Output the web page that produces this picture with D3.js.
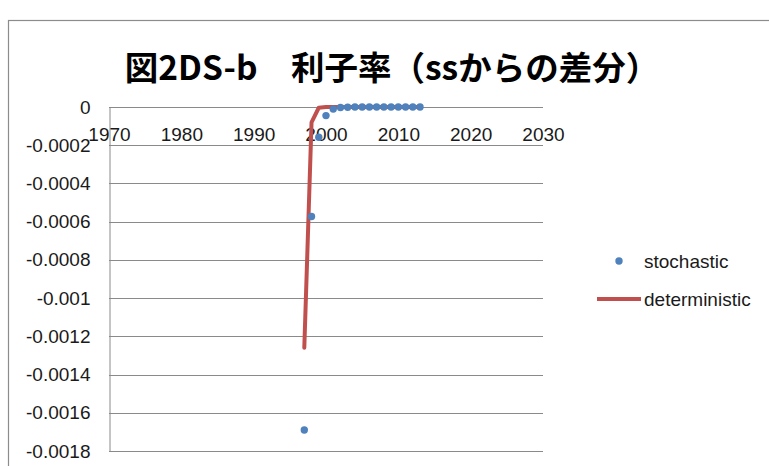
<!DOCTYPE html>
<html>
<head>
<meta charset="utf-8">
<script src="https://cdn.jsdelivr.net/npm/d3@7"></script>
<style>
  html, body { margin: 0; padding: 0; background: #fff; }
  svg { display: block; }
</style>
</head>
<body>
<svg id="chart" width="769" height="466"></svg>
<script>
// Interest rate, deviation from steady state
const titleText = "図2DS-b\u3000利子率（ssからの差分）";
const xTicks = [1970, 1980, 1990, 2000, 2010, 2020, 2030];
const yTicks = [0, -0.0002, -0.0004, -0.0006, -0.0008, -0.001, -0.0012, -0.0014, -0.0016, -0.0018];
const yTickLabels = ["0", "-0.0002", "-0.0004", "-0.0006", "-0.0008", "-0.001", "-0.0012", "-0.0014", "-0.0016", "-0.0018"];

const stochYears = [1997, 1998, 1999, 2000, 2001, 2002, 2003, 2004, 2005, 2006, 2007, 2008, 2009, 2010, 2011, 2012, 2013];
const stochValues = [-0.00169, -0.000573, -0.000158, -0.000045, -0.000011, -0.000003, -0.000001, 0, 0, 0, 0, 0, 0, 0, 0, 0, 0];

const detYears = [1997, 1998, 1999, 2000, 2001, 2002, 2003, 2004, 2005, 2006, 2007, 2008, 2009, 2010, 2011, 2012, 2013];
const detValues = [-0.00126, -0.00008, -0.000004, 0, 0, 0, 0, 0, 0, 0, 0, 0, 0, 0, 0, 0, 0];

const seriesNames = ["stochastic", "deterministic"];
const blue = "#4F81BD", red = "#C0504D";

const svg = d3.select("#chart");
const font = "'Liberation Sans', Arial, sans-serif";

// chart frame
svg.append("rect")
  .attr("x", 8.5).attr("y", 20.5).attr("width", 800).attr("height", 500)
  .attr("fill", "#fff").attr("stroke", "#8c8c8c").attr("stroke-width", 1.2);

const x = d3.scaleLinear().domain([1970, 2030]).range([109, 543]);
const y = d3.scaleLinear().domain([-0.0018, 0]).range([451, 107]);

// horizontal gridlines
svg.append("g")
  .selectAll("line").data(yTicks).join("line")
  .attr("x1", x.range()[0]).attr("x2", x.range()[1])
  .attr("y1", d => Math.round(y(d)) + 0.5).attr("y2", d => Math.round(y(d)) + 0.5)
  .attr("stroke", "#8a8a8a").attr("stroke-width", 1);

// vertical value axis
const yAxis = d3.axisLeft(y).tickValues(yTicks)
  .tickFormat((d, i) => yTickLabels[i]).tickSize(0).tickPadding(19);
const gy = svg.append("g").attr("transform", "translate(109.5,0)").call(yAxis);
gy.select(".domain").attr("stroke", "#8a8a8a");
gy.selectAll("text").attr("font-family", font).attr("font-size", 19).attr("fill", "#1a1a1a");

// horizontal category axis sits on the zero line, labels below it
const xAxis = d3.axisBottom(x).tickValues(xTicks).tickFormat(d3.format("d")).tickSize(0).tickPadding(20);
const gx = svg.append("g").attr("transform", `translate(0,${Math.round(y(0)) + 0.5})`).call(xAxis);
gx.select(".domain").remove();
gx.selectAll("text").attr("font-family", font).attr("font-size", 19).attr("fill", "#1a1a1a");

// deterministic path
const line = d3.line().x(d => x(d[0])).y(d => y(d[1]));
svg.append("path")
  .datum(detYears.map((yr, i) => [yr, detValues[i]]))
  .attr("d", line)
  .attr("fill", "none").attr("stroke", red).attr("stroke-width", 4)
  .attr("stroke-linejoin", "round").attr("stroke-linecap", "round");

// stochastic markers
svg.append("g")
  .selectAll("circle").data(stochYears.map((yr, i) => [yr, stochValues[i]])).join("circle")
  .attr("cx", d => x(d[0])).attr("cy", d => y(d[1])).attr("r", 3.7)
  .attr("fill", blue);

// title
svg.append("text")
  .attr("x", 392).attr("y", 80).attr("text-anchor", "middle")
  .attr("font-family", "'Noto Sans CJK JP', sans-serif").attr("font-weight", "bold")
  .attr("font-size", 33.5).attr("fill", "#000")
  .text(titleText);

// legend
const lg = svg.append("g");
lg.append("circle").attr("cx", 619).attr("cy", 261).attr("r", 3.7).attr("fill", blue);
lg.append("line").attr("x1", 597).attr("x2", 641).attr("y1", 299).attr("y2", 299)
  .attr("stroke", red).attr("stroke-width", 4);
lg.selectAll("text").data(seriesNames).join("text")
  .attr("x", 644).attr("y", (d, i) => 261 + i * 38).attr("dy", "0.35em")
  .attr("font-family", font).attr("font-size", 19).attr("fill", "#1a1a1a")
  .text(d => d);
</script>
</body>
</html>
